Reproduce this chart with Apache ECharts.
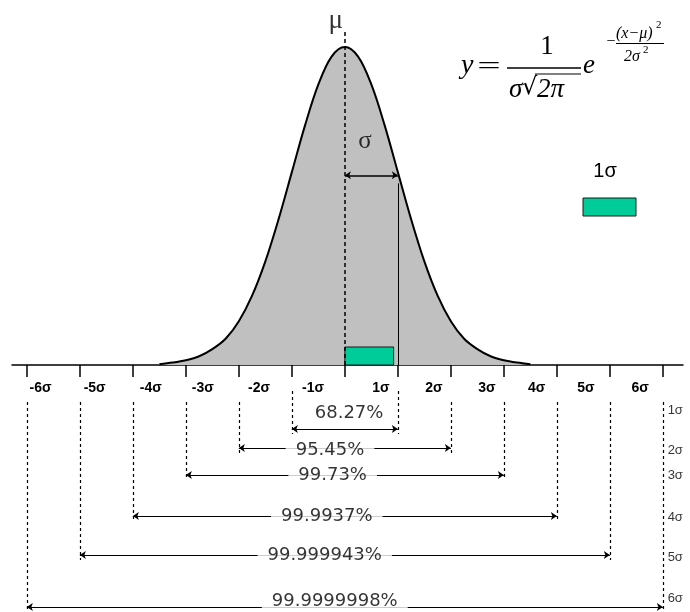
<!DOCTYPE html>
<html>
<head>
<meta charset="utf-8">
<script src="https://cdn.jsdelivr.net/npm/echarts@6/dist/echarts.min.js"></script>
<style>
html,body{margin:0;padding:0;background:#fff;}
#chart{width:690px;height:612px;}
</style>
</head>
<body>
<div id="chart"></div>
<script>
// ---------- data ----------
const curveX = [-3.5,-3.25,-3,-2.75,-2.5,-2.25,-2,-1.75,-1.5,-1.25,-1,-0.75,-0.5,-0.25,0,0.25,0.5,0.75,1,1.25,1.5,1.75,2,2.25,2.5,2.75,3,3.25,3.5];
const curveY = [0.001,0.003,0.006,0.011,0.020,0.033,0.055,0.087,0.130,0.183,0.242,0.301,0.352,0.387,0.399,0.387,0.352,0.301,0.242,0.183,0.130,0.087,0.055,0.033,0.020,0.011,0.006,0.003,0.001];
const tickValues = [-6,-5,-4,-3,-2,-1,0,1,2,3,4,5,6];
const axisLabels = ['-6σ','-5σ','-4σ','-3σ','-2σ','-1σ','1σ','2σ','3σ','4σ','5σ','6σ'];
const sigmaLevels = [1,2,3,4,5,6];
const percentLabels = ['68.27%','95.45%','99.73%','99.9937%','99.999943%','99.9999998%'];
const rowLabels = ['1σ','2σ','3σ','4σ','5σ','6σ'];

// ---------- layout (not data) ----------
const X_MIN = -6.28, X_MAX = 6.38;
const Y_MAX = 0.458;
const LABEL_POS = [-5.74,-4.72,-3.66,-2.68,-1.62,-0.60,0.68,1.68,2.68,3.62,4.55,5.57];
const ROW_TEXT_Y = [48,85,110,151,190,236];
const ROW_LINE_Y = [64,83,110,151,190,242];
const ROW_LABEL_Y = [45,85,110,152,192,233];
const ROW_TEXT_X = [0.08,-0.28,-0.23,-0.34,-0.38,-0.19];
const FONT_PCT = 'DejaVu Sans';

const chart = echarts.init(document.getElementById('chart'), null, {renderer: 'canvas'});

const rowArrowData = sigmaLevels.map((k, i) => ({coords: [[-k, ROW_LINE_Y[i]], [k, ROW_LINE_Y[i]]]}));
const rowDashData = [];
sigmaLevels.forEach((k, i) => {
  const start = k === 1 ? 26 : 37;
  const end = Math.min(ROW_LINE_Y[i] + 5, 247);
  rowDashData.push({coords: [[-k, start], [-k, end]]});
  rowDashData.push({coords: [[k, start], [k, end]]});
});
const pctData = percentLabels.map((t, i) => ({
  value: [ROW_TEXT_X[i], ROW_TEXT_Y[i]],
  label: i === 0 ? {backgroundColor: 'transparent', padding: 0} : {}
}));
const rowLabelData = rowLabels.map((t, i) => ({value: [6.09, ROW_LABEL_Y[i]]}));

const serif = '"Liberation Serif"';
function t(x, y, text, font, align, extra) {
  return Object.assign({type: 'text', x: x, y: y, style: {text: text, font: font, textAlign: align || 'left', textVerticalAlign: 'middle', fill: '#000'}}, extra || {});
}

const option = {
  animation: false,
  backgroundColor: '#fff',
  grid: [
    {left: 12, right: 7, top: 0, height: 365},
    {left: 12, right: 7, top: 365, height: 247}
  ],
  xAxis: [
    {
      type: 'value', gridIndex: 0, min: X_MIN, max: X_MAX,
      splitLine: {show: false},
      axisLine: {show: true, lineStyle: {color: '#000', width: 1.5}},
      axisTick: {show: true, customValues: tickValues, length: 12, inside: false, lineStyle: {color: '#000', width: 1.5}},
      axisLabel: {
        show: true, customValues: LABEL_POS, margin: 16,
        color: '#000', fontSize: 14, fontWeight: 'bold', fontFamily: 'Liberation Sans',
        formatter: (v) => {
          const idx = LABEL_POS.findIndex(p => Math.abs(p - v) < 1e-6);
          return idx >= 0 ? axisLabels[idx] : '';
        }
      }
    },
    {type: 'value', gridIndex: 1, min: X_MIN, max: X_MAX, show: false}
  ],
  yAxis: [
    {type: 'value', gridIndex: 0, min: 0, max: Y_MAX, show: false},
    {type: 'value', gridIndex: 1, min: 0, max: 247, inverse: true, show: false}
  ],
  graphic: [
    // formula
    t(461, 66, 'y', 'italic 28px ' + serif),
    t(489, 67, '=', '26px ' + serif, 'center', {scaleX: 1.6}),
    t(547, 47, '1', '27px ' + serif, 'center'),
    {type: 'line', shape: {x1: 507, y1: 68, x2: 581, y2: 68}, style: {stroke: '#000', lineWidth: 1.5}},
    t(509, 90, 'σ', 'italic 27px ' + serif),
    t(522, 88, '√', '24px "DejaVu Serif"'),
    {type: 'line', shape: {x1: 535, y1: 74, x2: 581, y2: 74}, style: {stroke: '#000', lineWidth: 1.2}},
    t(537, 90, '2π', 'italic 27px ' + serif),
    t(583, 66, 'e', 'italic 27px ' + serif),
    t(611, 42, '−', '16px ' + serif, 'center'),
    t(616, 34, '(x−μ)', 'italic 16px ' + serif),
    t(656, 25, '2', '11px ' + serif),
    {type: 'line', shape: {x1: 616, y1: 43.5, x2: 664, y2: 43.5}, style: {stroke: '#000', lineWidth: 1}},
    t(624, 57, '2σ', 'italic 16px ' + serif),
    t(643, 50, '2', '11px ' + serif),
    // 1σ legend
    t(605, 171, '1σ', '20px "Liberation Sans"', 'center'),
    {type: 'rect', shape: {x: 583, y: 198, width: 53, height: 18}, style: {fill: '#00CC99', stroke: '#1a1a1a', lineWidth: 1}}
  ],
  series: [
    {
      name: 'curve', type: 'line', xAxisIndex: 0, yAxisIndex: 0,
      data: curveX.map((x, i) => [x, curveY[i]]),
      showSymbol: false, smooth: 0.35,
      lineStyle: {color: '#000', width: 2},
      areaStyle: {color: '#C0C0C0', opacity: 1},
      z: 1
    },
    {
      name: 'oneSigmaBox', type: 'custom', xAxisIndex: 0, yAxisIndex: 0, z: 3,
      data: [[0, 0.92, 0, 0.0226]],
      renderItem: (params, api) => {
        const p0 = api.coord([api.value(0), api.value(2)]);
        const p1 = api.coord([api.value(1), api.value(3)]);
        return {type: 'rect', shape: {x: p0[0], y: p1[1], width: p1[0] - p0[0], height: p0[1] - p1[1]},
          style: {fill: '#00CC99', stroke: '#1a1a1a', lineWidth: 1}};
      }
    },
    {
      name: 'guides', type: 'lines', coordinateSystem: 'cartesian2d', xAxisIndex: 0, yAxisIndex: 0, z: 4,
      symbol: 'none',
      data: [
        {coords: [[0, 0], [0, 0.42]], lineStyle: {type: [4, 3], width: 1.5, color: '#000'}},
        {coords: [[1, 0], [1, 0.228]], lineStyle: {type: 'solid', width: 1, color: '#000'}}
      ],
      lineStyle: {color: '#000', width: 1, opacity: 1}
    },
    {
      name: 'sigmaArrow', type: 'lines', coordinateSystem: 'cartesian2d', xAxisIndex: 0, yAxisIndex: 0, z: 4,
      symbol: ['arrow', 'arrow'], symbolSize: 6,
      data: [{coords: [[0, 0.238], [1, 0.238]]}],
      lineStyle: {color: '#000', width: 1.5, opacity: 1}
    },
    {
      name: 'annot', type: 'scatter', xAxisIndex: 0, yAxisIndex: 0, z: 5,
      symbolSize: 1, itemStyle: {color: 'rgba(0,0,0,0)'},
      data: [
        {value: [-0.17, 0.432], label: {formatter: 'μ', fontSize: 27, fontFamily: 'Liberation Serif'}},
        {value: [0.38, 0.281], label: {formatter: 'σ', fontSize: 25, fontFamily: 'Liberation Serif'}}
      ],
      label: {show: true, position: 'inside', color: '#000'}
    },
    {
      name: 'rowDash', type: 'lines', coordinateSystem: 'cartesian2d', xAxisIndex: 1, yAxisIndex: 1,
      symbol: 'none', data: rowDashData,
      lineStyle: {color: '#000', width: 1.2, type: [3, 3], opacity: 1}
    },
    {
      name: 'rowArrows', type: 'lines', coordinateSystem: 'cartesian2d', xAxisIndex: 1, yAxisIndex: 1,
      symbol: ['arrow', 'arrow'], symbolSize: 6, data: rowArrowData,
      lineStyle: {color: '#000', width: 1.2, opacity: 1}
    },
    {
      name: 'pct', type: 'scatter', xAxisIndex: 1, yAxisIndex: 1, z: 6,
      symbolSize: 1, itemStyle: {color: 'rgba(0,0,0,0)'},
      data: pctData,
      label: {
        show: true, position: 'inside', color: '#000', fontSize: 18, fontFamily: FONT_PCT,
        backgroundColor: '#fff', padding: [1, 10],
        formatter: (p) => percentLabels[p.dataIndex]
      }
    },
    {
      name: 'rowLabels', type: 'scatter', xAxisIndex: 1, yAxisIndex: 1, z: 6,
      symbolSize: 1, itemStyle: {color: 'rgba(0,0,0,0)'},
      data: rowLabelData,
      label: {
        show: true, position: 'inside', align: 'left', color: '#000', fontSize: 13, fontFamily: 'Liberation Sans',
        formatter: (p) => rowLabels[p.dataIndex]
      }
    }
  ]
};
chart.setOption(option);
</script>
</body>
</html>
